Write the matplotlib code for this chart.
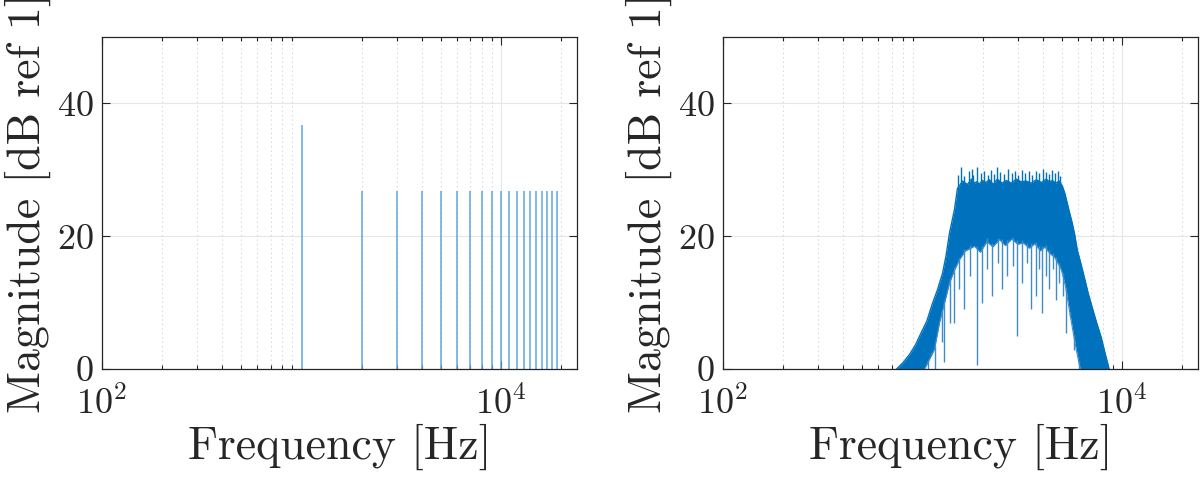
import numpy as np
import matplotlib
matplotlib.use("Agg")
from matplotlib import pyplot as plt
from matplotlib.ticker import LogLocator, NullFormatter, FixedLocator

plt.rcParams['font.family'] = ['cmr10', 'DejaVu Serif']
plt.rcParams['mathtext.fontset'] = 'cm'
plt.rcParams['axes.formatter.use_mathtext'] = True

# left: harmonic lines
harm_freq = [1000, 2000, 3000, 4000, 5000, 6000, 7000, 8000, 9000, 10000,
             11000, 12000, 13000, 14000, 15000, 16000, 17000, 18000, 19000]
harm_db = [36.8, 26.8, 26.8, 26.8, 26.8, 26.8, 26.8, 26.8, 26.8, 26.8,
           26.8, 26.8, 26.8, 26.8, 26.8, 26.8, 26.8, 26.8, 26.8]

top_freq = [741, 800, 861, 920, 989, 1050, 1122, 1190, 1259, 1310, 1365, 1445, 1496,
            1531, 1585, 1680, 1758, 1820, 1862, 1930, 1995, 2080, 2163, 2260, 2371,
            2500, 2630, 2790, 2951, 3120, 3311, 3500, 3715, 3940, 4169, 4315, 4467,
            4650, 4842, 5012, 5160, 5309, 5460, 5623, 5790, 5957, 6200, 6457, 6750,
            7079, 7450, 7852, 8200, 8610]
top_db = [0, 1.0, 2.2, 3.6, 5.6, 7.2, 9.9, 12.0, 14.4, 17.0, 20.5, 24.0, 27.2,
          27.6, 28.3, 27.8, 28.6, 28.0, 28.2, 27.9, 28.4, 28.1, 28.5, 27.8, 28.6,
          28.0, 28.4, 28.0, 28.6, 28.2, 28.3, 28.0, 28.5, 28.1, 28.6, 28.2, 28.4,
          28.0, 28.3, 27.6, 26.5, 25.0, 23.5, 22.0, 20.2, 18.0, 16.0, 13.9, 11.5,
          9.3, 7.0, 4.8, 2.5, 0]
# fine noise peaks above the dense top
peak_freq = [1500, 1560, 1620, 1700, 1760, 1800, 1880, 1960, 2040, 2120, 2200, 2290,
             2371, 2450, 2560, 2680, 2800, 2900, 3020, 3150, 3280, 3400, 3550, 3700,
             3850, 4000, 4169, 4300, 4450, 4600, 4750, 4900]
peak_db = [29.3, 30.4, 29.0, 29.8, 30.1, 29.2, 30.4, 29.5, 29.9, 29.3, 30.0, 29.4,
           30.4, 29.7, 29.4, 30.2, 29.6, 29.9, 29.3, 30.0, 29.5, 29.8, 29.2, 29.9,
           29.6, 30.1, 29.7, 29.4, 30.0, 29.5, 29.8, 29.1]
low_freq = [741, 1023, 1148, 1216, 1290, 1365, 1450, 1531, 1640, 1820, 1950, 2100,
            2250, 2427, 2600, 2800, 3000, 3200, 3428, 3650, 3900, 4100, 4315, 4600,
            4955, 5200, 5433, 5650, 5888, 6166, 8610]
low_db = [0, 0, 3, 7, 10, 13, 15, 16.5, 17.8, 18.5, 17.6, 19.2, 18.4, 19.5, 18.6,
          19.6, 18.8, 19.0, 18.2, 18.9, 17.8, 18.4, 17.5, 16.8, 15, 12.5, 9, 6, 3,
          0, 0]

spike_freq = [1059, 1100, 1148, 1250, 1288, 1365, 1445, 1520, 1622, 1720, 1884, 1995,
              2100, 2239, 2380, 2512, 2661, 2850, 2985, 3162, 3350, 3508, 3715, 3850,
              3981, 4150, 4315, 4500, 4677, 4850, 5050, 5248, 5500, 5754, 6095]
spike_db = [0, 2, 0, 4, 1, 7, 7, 12, 9, 14, 0.6, 10, 15, 11, 16, 12, 14, 15.5, 5,
            13, 16, 9, 11, 15, 8.4, 14, 12, 15, 10.4, 13, 11, 5.4, 8, 2.9, 0]

fig = plt.figure(figsize=(12, 4.79), dpi=100)
ax1 = fig.add_axes([0.085, 0.2296, 0.3958, 0.693])
ax2 = fig.add_axes([0.6025, 0.2296, 0.3958, 0.693])

blue = '#0072BD'
ax1.vlines(harm_freq, 0, harm_db, color='#5FA5DE', lw=1.1)

ax2.fill_between(top_freq, 0, top_db, color=blue, lw=0)
ax2.plot(top_freq, top_db, color=blue, lw=1.0)
ax2.vlines(peak_freq, np.interp(peak_freq, top_freq, top_db) - 0.5, peak_db,
           color=blue, lw=1.0)
ax2.fill_between(low_freq, 0, low_db, color='white', lw=0)
ax2.plot(low_freq[1:-1], low_db[1:-1], color='#3E8CCB', lw=0.8)
ax2.vlines(spike_freq, spike_db, np.interp(spike_freq, low_freq, low_db) + 0.5,
           color='#3E8CCB', lw=1.0)

for ax in (ax1, ax2):
    ax.set_xscale('log')
    ax.set_xlim(100, 24000)
    ax.set_ylim(0, 50)
    ax.xaxis.set_major_locator(FixedLocator([100, 10000]))
    ax.xaxis.set_minor_locator(LogLocator(base=10, subs=np.arange(2, 10), numticks=10))
    ax.xaxis.set_minor_formatter(NullFormatter())
    ax.set_yticks([0, 20, 40])
    ax.grid(True, which='major', color='#E6E6E6', lw=0.8, ls='-')
    ax.grid(True, which='minor', axis='x', color='#CFCFCF', lw=0.8, ls=(0, (1, 3)))
    ax.set_axisbelow(True)
    ax.tick_params(which='both', direction='in', top=True, right=True,
                   color='#262626', labelcolor='#262626', labelsize=26)
    ax.tick_params(which='major', length=6, width=0.8)
    ax.tick_params(which='minor', length=3, width=0.8)
    ax.tick_params(axis='x', pad=12)
    ax.tick_params(axis='y', pad=6)
    for s in ax.spines.values():
        s.set_color('#262626')
        s.set_linewidth(0.9)
    ax.set_xlabel('Frequency [Hz]', fontsize=33, color='#262626', labelpad=2)
    ax.set_ylabel('Magnitude [dB ref 1]', fontsize=33, color='#262626', labelpad=4)

fig.savefig('out.png', dpi=100)
